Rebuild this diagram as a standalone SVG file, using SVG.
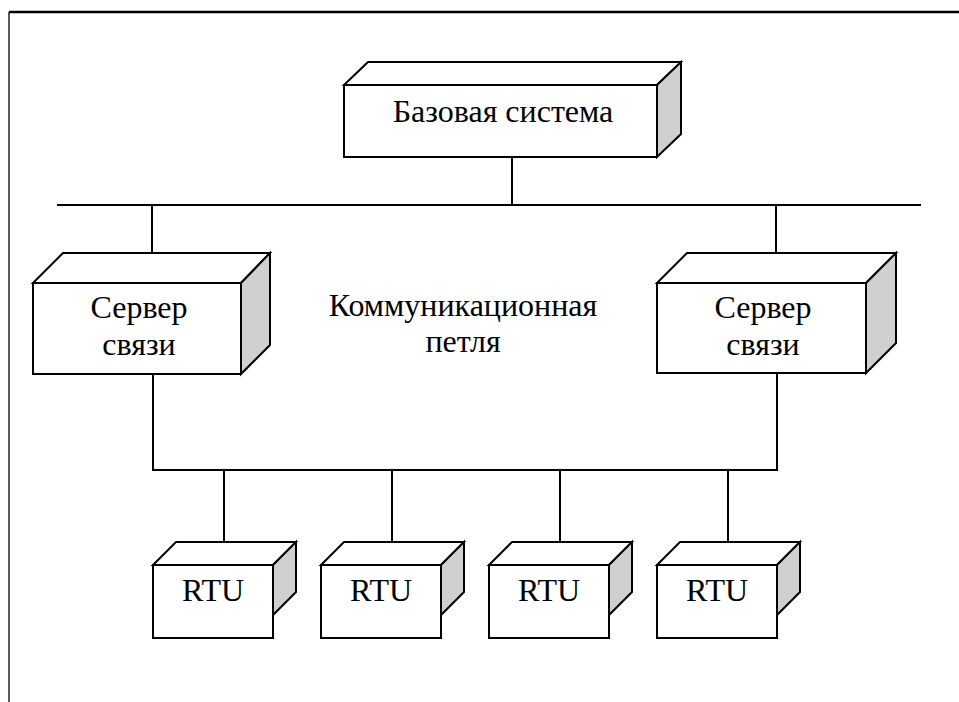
<svg xmlns="http://www.w3.org/2000/svg" width="959" height="702" viewBox="0 0 959 702">
  <style>
    .face { fill: #ffffff; stroke: #000000; stroke-width: 2; stroke-linejoin: miter; }
    .side { fill: #d0d0d0; stroke: #000000; stroke-width: 2; stroke-linejoin: miter; }
    .wire { fill: none; stroke: #000000; stroke-width: 2; }
  </style>
  <defs>
    <!-- small 3D box: front face 120x73, depth 23 -->
    <g id="rtuBox">
      <polygon class="face" points="0,23 23,0 143,0 120,23"/>
      <polygon class="side" points="120,23 143,0 143,50 120,73"/>
      <rect class="face" x="0" y="23" width="120" height="73"/>
    </g>
  </defs>

  <rect x="0" y="0" width="959" height="702" fill="#ffffff"/>

  <!-- page frame -->
  <path d="M9,702 V12" fill="none" stroke="#222" stroke-width="1.5"/>
  <path d="M9,12 H959" fill="none" stroke="#000" stroke-width="2.5"/>

  <g id="connectors">
    <path class="wire" d="M512,157 V205"/>
    <path class="wire" d="M57,205 H921"/>
    <path class="wire" d="M152,205 V253"/>
    <path class="wire" d="M776,205 V253"/>
    <path class="wire" d="M153,374 V470 H777 V373"/>
    <path class="wire" d="M224,470 V542"/>
    <path class="wire" d="M392,470 V542"/>
    <path class="wire" d="M560,470 V542"/>
    <path class="wire" d="M728,470 V542"/>
  </g>

  <g id="base-system">
    <polygon class="face" points="344,85 368,62 681,62 657,85"/>
    <polygon class="side" points="657,85 681,62 681,134 657,157"/>
    <rect class="face" x="344" y="85" width="313" height="72"/>
    <text x="503" y="122" font-family="Liberation Serif" font-size="32" text-anchor="middle">Базовая система</text>
  </g>

  <g id="server-left">
    <polygon class="face" points="33,283 63,253 270,253 241,283"/>
    <polygon class="side" points="241,283 270,253 270,345 241,374"/>
    <rect class="face" x="33" y="283" width="208" height="91"/>
    <text x="139" y="318" font-family="Liberation Serif" font-size="32" text-anchor="middle">Сервер</text>
    <text x="139" y="355" font-family="Liberation Serif" font-size="32" text-anchor="middle">связи</text>
  </g>

  <g id="server-right">
    <polygon class="face" points="657,283 687,253 896,253 866,283"/>
    <polygon class="side" points="866,283 896,253 896,343 866,373"/>
    <rect class="face" x="657" y="283" width="209" height="90"/>
    <text x="763" y="318" font-family="Liberation Serif" font-size="32" text-anchor="middle">Сервер</text>
    <text x="763" y="355" font-family="Liberation Serif" font-size="32" text-anchor="middle">связи</text>
  </g>

  <g id="loop-label">
    <text x="463" y="316" font-family="Liberation Serif" font-size="32" text-anchor="middle">Коммуникационная</text>
    <text x="463" y="352" font-family="Liberation Serif" font-size="32" text-anchor="middle">петля</text>
  </g>

  <g id="rtu-1">
    <use href="#rtuBox" x="153" y="542"/>
    <text x="213" y="601" font-family="Liberation Serif" font-size="32" text-anchor="middle">RTU</text>
  </g>
  <g id="rtu-2">
    <use href="#rtuBox" x="321" y="542"/>
    <text x="381" y="601" font-family="Liberation Serif" font-size="32" text-anchor="middle">RTU</text>
  </g>
  <g id="rtu-3">
    <use href="#rtuBox" x="489" y="542"/>
    <text x="549" y="601" font-family="Liberation Serif" font-size="32" text-anchor="middle">RTU</text>
  </g>
  <g id="rtu-4">
    <use href="#rtuBox" x="657" y="542"/>
    <text x="717" y="601" font-family="Liberation Serif" font-size="32" text-anchor="middle">RTU</text>
  </g>
</svg>
